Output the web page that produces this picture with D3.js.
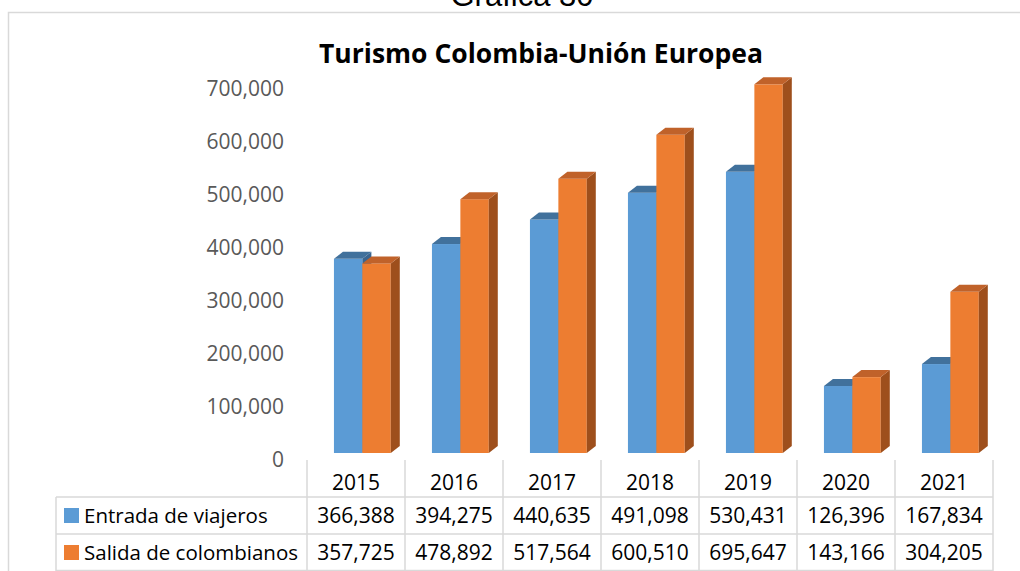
<!DOCTYPE html>
<html>
<head>
<meta charset="utf-8">
<script src="https://cdn.jsdelivr.net/npm/d3@7"></script>
<style>
  body { margin: 0; background: #fff; }
  svg { display: block; font-family: "Open Sans", sans-serif; }
</style>
</head>
<body>
<div id="vis"></div>
<script>
const WIDTH = 1020;
const HEIGHT = 571;

// data
const years = ["2015", "2016", "2017", "2018", "2019", "2020", "2021"];
const entrada = [366388, 394275, 440635, 491098, 530431, 126396, 167834];
const salida = [357725, 478892, 517564, 600510, 695647, 143166, 304205];
const seriesNames = ["Entrada de viajeros", "Salida de colombianos"];
const yTicks = [0, 100000, 200000, 300000, 400000, 500000, 600000, 700000];

const COLORS = [
  {front: "#5B9BD5", top: "#41719C", side: "#3A6590"},
  {front: "#ED7D31", top: "#C0622A", side: "#9E4F1C"}
];

const FRAME = d3.select("#vis")
  .append("svg")
    .attr("width", WIDTH)
    .attr("height", HEIGHT);

// outer chart border
FRAME.append("path")
  .attr("d", "M8.5,571 V12.5 H1020")
  .attr("fill", "none")
  .attr("stroke", "#D9D9D9")
  .attr("stroke-width", 1.5);

// caption, cut off at the top like the source
FRAME.append("text")
  .attr("x", 522).attr("y", 6)
  .attr("text-anchor", "middle")
  .attr("font-family", "Liberation Sans, Arial, sans-serif")
  .attr("font-size", 31)
  .text("Gráfica 30");

FRAME.append("text")
  .attr("x", 541).attr("y", 63)
  .attr("text-anchor", "middle")
  .attr("font-weight", "bold")
  .attr("font-size", 26.5)
  .attr("fill", "#000")
  .text("Turismo Colombia-Unión Europea");

const X_SCALE = d3.scaleBand()
  .domain(years)
  .range([307, 993])
  .paddingInner(0);

const Y_SCALE = d3.scaleLinear()
  .domain([0, 700000])
  .range([453, 82]);

// y axis labels
FRAME.append("g").selectAll("text")
  .data(yTicks)
  .enter()
  .append("text")
    .attr("x", 284)
    .attr("y", (d) => Y_SCALE(d) + 14)
    .attr("text-anchor", "end")
    .attr("font-size", 21)
    .attr("fill", "#595959")
    .text((d) => d3.format(",")(d));

// 3d bars
const bw = X_SCALE.bandwidth();
const barW = bw * 0.29;
const DX = 9, DY = 7;
const series = [entrada, salida];

years.forEach((yr, i) => {
  series.forEach((vals, s) => {
    const x0 = X_SCALE(yr) + bw * 0.275 + s * barW;
    const y0 = Y_SCALE(vals[i]);
    const yb = Y_SCALE(0);
    const g = FRAME.append("g");
    g.append("rect")
      .attr("x", x0).attr("y", y0)
      .attr("width", barW).attr("height", yb - y0)
      .attr("fill", COLORS[s].front);
    // side face
    g.append("path")
      .attr("d", `M${x0 + barW},${y0} L${x0 + barW + DX},${y0 - DY} L${x0 + barW + DX},${yb - DY} L${x0 + barW},${yb} Z`)
      .attr("fill", COLORS[s].side);
    // top face
    g.append("path")
      .attr("d", `M${x0},${y0} L${x0 + DX},${y0 - DY} L${x0 + barW + DX},${y0 - DY} L${x0 + barW},${y0} Z`)
      .attr("fill", COLORS[s].top);
  });
});

// data table
const table = FRAME.append("g")
  .attr("stroke", "#D9D9D9")
  .attr("stroke-width", 1.5)
  .attr("fill", "none");

const colEdges = [X_SCALE(years[0])].concat(years.map((d) => X_SCALE(d) + bw));
colEdges.forEach((x) => {
  table.append("line")
    .attr("x1", x).attr("x2", x)
    .attr("y1", 460).attr("y2", 571);
});
table.append("line").attr("x1", 56).attr("x2", 56).attr("y1", 497).attr("y2", 571);
[497, 534, 570.5].forEach((y) => {
  table.append("line")
    .attr("x1", 56).attr("x2", 993)
    .attr("y1", y).attr("y2", y);
});

FRAME.append("g").selectAll("text")
  .data(years)
  .enter()
  .append("text")
    .attr("x", (d) => X_SCALE(d) + bw / 2)
    .attr("y", 490)
    .attr("text-anchor", "middle")
    .attr("font-size", 21)
    .text((d) => d);

const rowY = [523, 560];
series.forEach((vals, s) => {
  FRAME.append("rect")
    .attr("x", 64).attr("y", rowY[s] - 15)
    .attr("width", 15).attr("height", 15)
    .attr("fill", COLORS[s].front);
  FRAME.append("text")
    .attr("x", 84).attr("y", rowY[s])
    .attr("font-size", 20.5)
    .text(seriesNames[s]);
  FRAME.append("g").selectAll("text")
    .data(vals)
    .enter()
    .append("text")
      .attr("x", (d, i) => X_SCALE(years[i]) + bw / 2)
      .attr("y", rowY[s])
      .attr("text-anchor", "middle")
      .attr("font-size", 21)
      .text((d) => d3.format(",")(d));
});
</script>
</body>
</html>
